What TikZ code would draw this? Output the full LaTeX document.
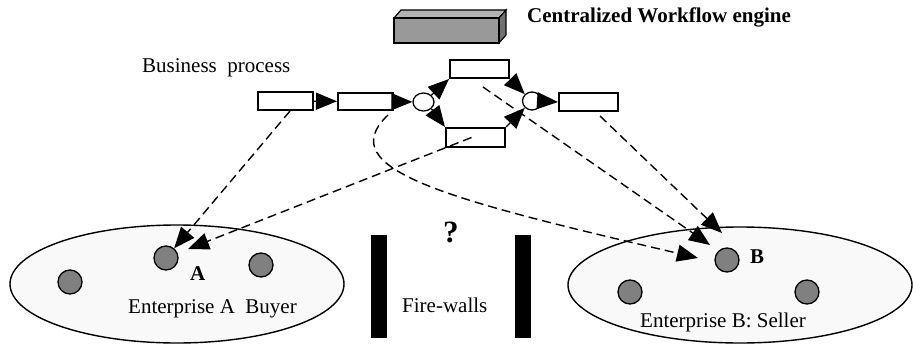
\documentclass[tikz,border=0pt]{standalone}
\usepackage{fontspec}
\setmainfont{Liberation Serif}
\usetikzlibrary{arrows.meta,shapes.geometric}

\definecolor{memberfill}{RGB}{128,128,128}
\definecolor{orgfill}{RGB}{249,249,249}
\definecolor{engfront}{RGB}{153,153,153}
\definecolor{engtop}{RGB}{178,178,178}
\definecolor{engside}{RGB}{112,112,112}

\tikzset{
  task/.style={draw, line width=2pt, fill=white, rectangle, inner sep=0pt},
  gate/.style={draw, line width=1.3pt, fill=white, ellipse, inner sep=0pt},
  bighead/.tip={Triangle[length=21pt,width=17pt]},
  flow/.style={line width=1.3pt, -bighead},
  link/.style={line width=1.4pt, dash pattern=on 9pt off 5pt, -bighead},
  member/.style={circle, draw, line width=1.3pt, fill=memberfill,
    minimum size=24pt, inner sep=0pt},
  orgarea/.style={draw, line width=1.4pt, fill=orgfill},
  wall/.style={fill=black},
  lbl/.style={inner sep=0pt, anchor=base west, font=\fontsize{21}{25}\selectfont},
  blbl/.style={inner sep=0pt, anchor=base west, font=\fontsize{21}{25}\selectfont\bfseries},
}

\begin{document}
\begin{tikzpicture}[x=1pt, y=-1pt]
  \useasboundingbox (0,0) rectangle (913,345);

  % enterprises
  \draw[orgarea] (177,284) ellipse [x radius=167, y radius=59];
  \draw[orgarea] (740,285) ellipse [x radius=172, y radius=58];

  % firewalls
  \fill[wall] (371,235) rectangle (387,338);
  \fill[wall] (515,235) rectangle (531,338);

  % workflow engine (cuboid)
  \draw[line width=1.2pt, fill=engtop] (394,18) -- (401,10) -- (506,10) -- (499,18) -- cycle;
  \draw[line width=1.2pt, fill=engside] (499,18) -- (506,10) -- (506,35) -- (499,43) -- cycle;
  \draw[line width=1.2pt, fill=engfront] (394,18) rectangle (499,43);

  % business process tasks and gateways
  \node[task, minimum width=55pt, minimum height=18pt] (b1) at (285.5,101) {};
  \node[task, minimum width=55pt, minimum height=17pt] (b2) at (365.5,101.5) {};
  \node[gate, minimum width=21pt, minimum height=18pt] (c1) at (423.5,102) {};
  \node[task, minimum width=59pt, minimum height=18pt] (t) at (479.5,69) {};
  \node[task, minimum width=59pt, minimum height=19pt] (bt) at (475.5,137.5) {};
  \node[gate, minimum width=19pt, minimum height=18pt] (c2) at (532,101) {};
  \node[task, minimum width=59pt, minimum height=18pt] (b3) at (588.5,102) {};

  % control flow
  \draw[flow] (b1) -- (b2);
  \draw[flow] (b2) -- (c1);
  \draw[flow] (c1.north east) -- (t.south west);
  \draw[flow] (c1.south east) -- (bt.north west);
  \draw[flow] (t.south east) -- (c2.north west);
  \draw[flow] (bt.north east) -- (c2.south west);
  \draw[flow] (c2.east) -- (b3.west);

  % enterprise members
  \node[member] (a1) at (70,282) {};
  \node[member] (nA) at (166,258) {};
  \node[member] (a3) at (261,265) {};
  \node[member] (nB) at (727,260) {};
  \node[member] (b4) at (630,292) {};
  \node[member] (b5) at (807,292) {};

  % arrival points of the cross-organisation links
  \coordinate (aIn) at (188,249);
  \coordinate (bIn1) at (698,258);
  \coordinate (bIn2) at (710,245);
  \coordinate (bIn3) at (722,233);

  % task-to-enterprise links
  \draw[link] ([xshift=4.5pt]b1.south) -- (nA);
  \draw[link] ([xshift=-4pt]bt.center) -- (aIn);
  \draw[link] ([xshift=-6pt,yshift=-4pt]b2.south east)
      .. controls (330,170) and (450,200) .. (bIn1);
  \draw[link] ([xshift=3.5pt,yshift=-8pt]t.south) -- (bIn2);
  \draw[link] ([xshift=11.5pt,yshift=-4pt]b3.south) -- (bIn3);

  % labels
  \node[lbl] (lbp) at (142,73) {Business\ \ process};
  \node[blbl] (lwe) at (527,23) {Centralized Workflow engine};
  \node[lbl] (lea) at (128,313) {Enterprise A\ \ Buyer};
  \node[lbl] (leb) at (640,327) {Enterprise B: Seller};
  \node[lbl] (lfw) at (402,312) {Fire-walls};
  \node[blbl, font=\fontsize{31}{36}\selectfont\bfseries] (lq) at (443,242) {?};
  \node[blbl] (lA) at (190,280) {A};
  \node[blbl] (lB) at (750,263) {B};
\end{tikzpicture}
\end{document}
